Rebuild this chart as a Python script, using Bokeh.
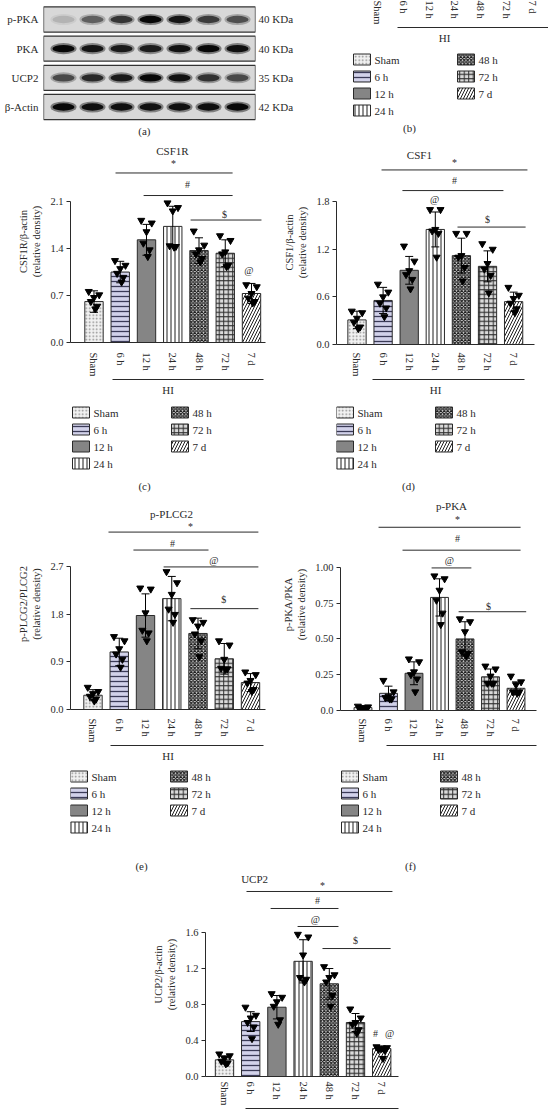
import numpy as np
from bokeh.plotting import figure
from bokeh.models import ColumnDataSource, Range1d, FixedTicker, LinearAxis
from bokeh.layouts import column, row
from bokeh.embed import file_html
from bokeh.resources import INLINE
from bokeh.core.properties import value

FONT = "Liberation Serif"
INK = "#2a2a2a"

GROUPS = ["Sham", "6 h", "12 h", "24 h", "48 h", "72 h", "7 d"]
HI_TEXT = "HI"

# ---------------- (a) western blot ----------------
BLOT_ROWS = ["p-PKA", "PKA", "UCP2", "β-Actin"]
BLOT_KDA = ["40 KDa", "40 KDa", "35 KDa", "42 KDa"]
BLOT_PPKA = [0.12, 0.45, 0.65, 0.95, 0.85, 0.62, 0.52]
BLOT_PKA = [0.95, 0.85, 0.82, 0.80, 0.88, 0.95, 0.90]
BLOT_UCP2 = [0.55, 0.72, 0.82, 0.95, 0.88, 0.68, 0.55]
BLOT_ACTIN = [0.95, 0.90, 0.90, 0.88, 0.90, 0.90, 0.95]

# ---------------- (c) CSF1R ----------------
CSF1R_MEAN = [0.61, 1.05, 1.53, 1.73, 1.37, 1.33, 0.73]
CSF1R_SD = [0.16, 0.16, 0.23, 0.30, 0.19, 0.20, 0.15]
CSF1R_PTS = [
    [0.76, 0.71, 0.67, 0.61, 0.54, 0.50],
    [1.22, 1.15, 1.10, 1.03, 0.97, 0.90],
    [1.82, 1.78, 1.65, 1.48, 1.38, 1.28],
    [2.08, 2.01, 1.96, 1.44, 1.43, 1.42],
    [1.66, 1.45, 1.38, 1.32, 1.25, 1.20],
    [1.59, 1.52, 1.35, 1.32, 1.15, 1.13],
    [0.86, 0.83, 0.73, 0.66, 0.61, 0.59],
]
CSF1R_TICKS = [0.0, 0.7, 1.4, 2.1]
CSF1R_TICK_LABELS = ["0.0", "0.7", "1.4", "2.1"]

# ---------------- (d) CSF1 ----------------
CSF1_MEAN = [0.31, 0.555, 0.935, 1.45, 1.12, 0.985, 0.54]
CSF1_SD = [0.11, 0.165, 0.175, 0.22, 0.22, 0.195, 0.12]
CSF1_PTS = [
    [0.42, 0.40, 0.33, 0.28, 0.22, 0.20],
    [0.76, 0.66, 0.60, 0.52, 0.46, 0.35],
    [1.24, 1.05, 0.93, 0.88, 0.82, 0.70],
    [1.70, 1.70, 1.45, 1.43, 1.40, 1.10],
    [1.40, 1.40, 1.12, 1.10, 0.97, 0.80],
    [1.27, 1.20, 1.02, 0.95, 0.87, 0.65],
    [0.72, 0.62, 0.58, 0.52, 0.45, 0.40],
]
CSF1_TICKS = [0.0, 0.6, 1.2, 1.8]
CSF1_TICK_LABELS = ["0.0", "0.6", "1.2", "1.8"]

# ---------------- (e) p-PLCG2 ----------------
PLCG2_MEAN = [0.27, 1.09, 1.78, 2.10, 1.44, 0.96, 0.51]
PLCG2_SD = [0.105, 0.26, 0.41, 0.42, 0.29, 0.29, 0.17]
PLCG2_PTS = [
    [0.42, 0.34, 0.30, 0.25, 0.20, 0.16],
    [1.38, 1.30, 1.15, 1.05, 0.95, 0.80],
    [2.30, 2.28, 1.83, 1.50, 1.45, 1.30],
    [2.61, 2.40, 2.18, 1.90, 1.80, 1.65],
    [1.70, 1.65, 1.58, 1.43, 1.30, 1.00],
    [1.30, 1.22, 0.95, 0.78, 0.77, 0.76],
    [0.71, 0.66, 0.55, 0.50, 0.38, 0.34],
]
PLCG2_TICKS = [0.0, 0.9, 1.8, 2.7]
PLCG2_TICK_LABELS = ["0.0", "0.9", "1.8", "2.7"]

# ---------------- (f) p-PKA ----------------
PKA_MEAN = [0.02, 0.12, 0.26, 0.79, 0.50, 0.235, 0.155]
PKA_SD = [0.01, 0.05, 0.08, 0.13, 0.12, 0.055, 0.045]
PKA_PTS = [
    [0.03, 0.025, 0.02, 0.015, 0.01, 0.01],
    [0.21, 0.13, 0.10, 0.09, 0.08, 0.08],
    [0.36, 0.34, 0.27, 0.25, 0.22, 0.13],
    [0.94, 0.92, 0.84, 0.77, 0.68, 0.60],
    [0.64, 0.62, 0.55, 0.41, 0.40, 0.38],
    [0.31, 0.29, 0.24, 0.19, 0.19, 0.19],
    [0.24, 0.20, 0.18, 0.13, 0.13, 0.12],
]
PKA_TICKS = [0.0, 0.25, 0.5, 0.75, 1.0]
PKA_TICK_LABELS = ["0.0", "0.25", "0.50", "0.75", "1.00"]

# ---------------- (g) UCP2 ----------------
UCP2_MEAN = [0.185, 0.61, 0.77, 1.28, 1.03, 0.60, 0.31]
UCP2_SD = [0.045, 0.11, 0.13, 0.24, 0.17, 0.10, 0.03]
UCP2_PTS = [
    [0.25, 0.23, 0.20, 0.17, 0.15, 0.14],
    [0.77, 0.68, 0.65, 0.60, 0.55, 0.42],
    [0.92, 0.88, 0.83, 0.78, 0.63, 0.58],
    [1.58, 1.55, 1.35, 1.10, 1.08, 1.05],
    [1.22, 1.13, 1.10, 1.05, 0.90, 0.78],
    [0.75, 0.65, 0.60, 0.58, 0.52, 0.48],
    [0.33, 0.32, 0.31, 0.30, 0.29, 0.20],
]
UCP2_TICKS = [0.0, 0.4, 0.8, 1.2, 1.6]
UCP2_TICK_LABELS = ["0.0", "0.4", "0.8", "1.2", "1.6"]

# ---------------- styles ----------------
FILLS = ["#f1f1f1", "#d2d2ea", "#858585", "#ffffff", "#dcdcdc", "#dadada", "#ffffff"]
HATCHES = [".", "-", " ", "|", "x", "+", "/"]
HATCH_COLORS = ["#8c8c8c", "#3b3b58", INK, "#1e1e1e", "#1e1e1e", "#2e2e2e", "#1e1e1e"]
HATCH_SCALES = [3.5, 5.0, 12.0, 4.0, 3.5, 4.5, 6.0]
HATCH_WEIGHTS = [1.0, 1.3, 1.0, 1.0, 1.2, 1.0, 1.0]
JITTER = [-0.2, 0.2, 0.0, -0.12, 0.12, 0.05]


def base_fig(width, height, xr, yr, borders, **kw):
    l, r, t, b = borders
    p = figure(width=width, height=height, x_range=Range1d(*xr), y_range=Range1d(*yr),
               output_backend="svg", toolbar_location=None, title=None,
               min_border_left=l, min_border_right=r, min_border_top=t,
               min_border_bottom=b, **kw)
    p.grid.visible = False
    p.outline_line_color = None
    return p


def style_text_axis(ax, size="10.5px"):
    ax.major_label_text_font = FONT
    ax.major_label_text_font_size = size
    ax.major_label_text_color = INK
    ax.axis_label_text_font = FONT
    ax.axis_label_text_font_size = size
    ax.axis_label_text_font_style = "normal"
    ax.axis_label_text_color = INK
    ax.minor_tick_line_color = None
    ax.minor_tick_in = 0
    ax.minor_tick_out = 0


def style_cols():
    return dict(fill=FILLS, hatch=HATCHES, hcolor=HATCH_COLORS,
                hscale=HATCH_SCALES, hweight=HATCH_WEIGHTS)


def add_group_axes(p, standoff, hi_bounds, hi_label=HI_TEXT):
    xa = p.xaxis[0]
    xa.ticker = FixedTicker(ticks=list(range(len(GROUPS))))
    xa.major_label_overrides = {i: g for i, g in enumerate(GROUPS)}
    xa.major_label_orientation = "vertical"
    xa.major_tick_line_color = None
    xa.major_tick_in = 0
    xa.major_tick_out = 0
    xa.major_label_standoff = standoff
    xa.axis_line_color = INK
    style_text_axis(xa)
    hi = LinearAxis(bounds=hi_bounds, ticker=FixedTicker(ticks=[]),
                    axis_label=hi_label, axis_label_standoff=4 if hi_label else 0,
                    major_tick_in=0, major_tick_out=0, major_label_standoff=0,
                    axis_line_color=INK, axis_line_width=1)
    style_text_axis(hi, "11px")
    p.add_layout(hi, "below")


def legend_fig(width, height, borders_lr, col_x, row_y, panel_label, lab_xy):
    """Key of the seven groups (two columns) plus the panel letter.
    Its frame lines up with the chart above it, so x is in the figure's pixels;
    y grows downward from the figure top."""
    l, r = borders_lr
    p = base_fig(width, height, (l, width - r), (height, 0), (l, r, 0, 0),
                 x_axis_location=None, y_axis_location=None)
    xs, ys, tx = [], [], []
    for i in range(len(GROUPS)):
        c, rr = divmod(i, 4)
        xs.append(col_x[c] + 8.5)
        tx.append(col_x[c] + 21)
        ys.append(row_y[rr])
    d = style_cols()
    d.update(x=xs, y=ys)
    p.rect(x="x", y="y", width=17, height=11, source=ColumnDataSource(d),
           fill_color="fill", line_color=INK, line_width=1,
           hatch_pattern="hatch", hatch_color="hcolor",
           hatch_scale="hscale", hatch_weight="hweight")
    p.text(x=tx, y=ys, text=GROUPS, text_font=value(FONT), text_font_size="11px",
           text_align="left", text_baseline="middle", text_color=INK)
    p.text(x=[lab_xy[0]], y=[lab_xy[1]], text=[panel_label], text_font=value(FONT),
           text_font_size="11px", text_align="center", text_baseline="middle",
           text_color=INK)
    return p


def bar_panel(width, height, borders, xr, y_end, mean, sd, pts, ticks, tick_labels,
              ylabel, title, title_xy, sig, extra, hi_bounds, x_standoff=10,
              hi_label=HI_TEXT):
    p = base_fig(width, height, xr, (0, y_end), borders)

    d = style_cols()
    d["x"] = list(range(len(GROUPS)))
    d["top"] = mean
    d["lo"] = [m - s for m, s in zip(mean, sd)]
    d["hi"] = [m + s for m, s in zip(mean, sd)]
    src = ColumnDataSource(d)
    p.vbar(x="x", top="top", bottom=0, width=0.7, source=src,
           fill_color="fill", line_color=INK, line_width=1,
           hatch_pattern="hatch", hatch_color="hcolor",
           hatch_scale="hscale", hatch_weight="hweight")
    p.segment(x0="x", y0="lo", x1="x", y1="hi", source=src, line_color="black", line_width=1)
    p.scatter(x="x", y="hi", marker="dash", size=8, source=src, line_color="black", line_width=1)
    p.scatter(x="x", y="lo", marker="dash", size=8, source=src, line_color="black", line_width=1)

    px, py = [], []
    for i, vals in enumerate(pts):
        for k, v in enumerate(vals):
            px.append(i + JITTER[k])
            py.append(v)
    p.scatter(px, py, marker="inverted_triangle", size=7, fill_color="black",
              line_color="black")

    lx0 = [s[1] for s in sig]
    lx1 = [s[2] for s in sig]
    ly = [s[3] for s in sig]
    p.segment(x0=lx0, y0=ly, x1=lx1, y1=ly, line_color=INK, line_width=1)
    syms = [s[0] for s in sig] + [e[0] for e in extra]
    sx = [s[4] for s in sig] + [e[1] for e in extra]
    sy = [s[5] for s in sig] + [e[2] for e in extra]
    p.text(x=sx, y=sy, text=syms, text_font=value(FONT), text_font_size="10px",
           text_align="center", text_baseline="middle", text_color=INK)
    p.text(x=[title_xy[0]], y=[title_xy[1]], text=[title], text_font=value(FONT),
           text_font_size="11px", text_align="center", text_baseline="middle",
           text_color=INK)

    ya = p.yaxis[0]
    ya.ticker = FixedTicker(ticks=ticks)
    ya.major_label_overrides = {tk: lb for tk, lb in zip(ticks, tick_labels)}
    ya.bounds = (0, ticks[-1])
    ya.axis_label = ylabel
    ya.axis_label_standoff = 5
    ya.major_label_standoff = 3
    ya.major_tick_in = 0
    ya.major_tick_out = 4
    ya.axis_line_color = INK
    ya.major_tick_line_color = INK
    style_text_axis(ya)

    add_group_axes(p, x_standoff, hi_bounds, hi_label)
    return p


def blot_panel():
    # rows 3..0 from top to bottom; frame reaches down to hold the "(a)" letter
    p = base_fig(308, 138, (-0.69, 6.62), (-1.08, 3.651), (43, 53, 0, 0),
                 x_axis_location=None)
    row_y = [3, 2, 1, 0]
    p.hbar(y=row_y, left=-0.69, right=6.62, height=0.86, fill_color="#d8d8d8",
           line_color="#333333", line_width=1.3)
    lanes = list(range(7))
    bx, by, ba = [], [], []
    for yv, inten in zip(row_y, [BLOT_PPKA, BLOT_PKA, BLOT_UCP2, BLOT_ACTIN]):
        for j, a in zip(lanes, inten):
            bx.append(j)
            by.append(yv)
            ba.append(a)
    src = ColumnDataSource(dict(x=bx, y=by, outer=[a * 0.5 for a in ba],
                                inner=[min(1.0, a * 1.05) for a in ba]))
    p.ellipse(x="x", y="y", width=0.9, height=0.38, source=src, fill_color="#151515",
              fill_alpha="outer", line_color=None)
    p.ellipse(x="x", y="y", width=0.76, height=0.25, source=src, fill_color="#080808",
              fill_alpha="inner", line_color=None)
    p.text(x=[2.79], y=[-0.81], text=["(a)"], text_font=value(FONT),
           text_font_size="11px", text_align="center", text_baseline="middle",
           text_color=INK)
    ya = p.yaxis[0]
    ya.ticker = FixedTicker(ticks=row_y)
    ya.major_label_overrides = {yv: nm for yv, nm in zip(row_y, BLOT_ROWS)}
    ya.axis_line_color = None
    ya.major_tick_line_color = None
    ya.major_tick_out = 0
    ya.major_tick_in = 0
    ya.major_label_standoff = 5
    style_text_axis(ya, "11px")
    ra = LinearAxis(ticker=FixedTicker(ticks=row_y),
                    major_label_overrides={yv: k for yv, k in zip(row_y, BLOT_KDA)},
                    axis_line_color=None, major_tick_line_color=None,
                    major_tick_out=0, major_tick_in=0, major_label_standoff=3)
    style_text_axis(ra, "11px")
    p.add_layout(ra, "right")
    return p


def stub_panel():
    # bottom of panel (b): its plotting area lies above the visible window
    p = base_fig(240, 44, (-1.43, 6.63), (-2, -1), (32, 0, 0, 43),
                 y_axis_location=None)
    add_group_axes(p, 0, (0.78, 6.63))
    p.xaxis[0].axis_line_color = None
    return p


blot = blot_panel()
stub = stub_panel()
leg_b = legend_fig(240, 94, (32, 0), (45, 149), (15, 32, 49, 66), "(b)", (101, 83))

pc = bar_panel(274, 260, (70, 9, 2, 53), (-0.895, 6.533), 3.01,
               CSF1R_MEAN, CSF1R_SD, CSF1R_PTS, CSF1R_TICKS, CSF1R_TICK_LABELS,
               "CSF1R/β-actin\n(relative density)", "CSF1R", (2.99, 2.86),
               [("*", 0.82, 5.28, 2.526, 3.03, 2.66),
                ("#", 1.89, 5.28, 2.19, 3.56, 2.35),
                ("$", 3.68, 6.38, 1.825, 4.97, 1.91)],
               [("@", 5.9, 1.07)], (0.70, 6.46))
leg_c = legend_fig(274, 100, (70, 9), (72, 171), (14, 31, 48, 65), "(c)", (144, 87))

pd_ = bar_panel(274, 260, (62, 14, 2, 53), (-0.785, 6.80), 2.571,
                CSF1_MEAN, CSF1_SD, CSF1_PTS, CSF1_TICKS, CSF1_TICK_LABELS,
                "CSF1/β-actin\n(relative density)", "CSF1", (2.39, 2.385),
                [("*", 0.94, 6.53, 2.20, 3.74, 2.30),
                 ("#", 1.74, 5.61, 1.94, 3.74, 2.07),
                 ("$", 3.85, 6.46, 1.48, 5.0, 1.58)],
                [("@", 2.97, 1.83)], (0.59, 6.42), x_standoff=8)
leg_d = legend_fig(274, 100, (62, 14), (62, 161), (14, 31, 48, 65), "(d)", (134, 87))

pe = bar_panel(274, 266, (70, 9, 0, 53), (-0.857, 6.571), 3.996,
               PLCG2_MEAN, PLCG2_SD, PLCG2_PTS, PLCG2_TICKS, PLCG2_TICK_LABELS,
               "p-PLCG2/PLCG2\n(relative density)", "p-PLCG2", (2.99, 3.71),
               [("*", 0.59, 6.30, 3.36, 3.71, 3.47),
                ("#", 1.54, 4.40, 3.02, 3.03, 3.15),
                ("@", 2.69, 6.30, 2.70, 4.60, 2.83),
                ("$", 3.71, 6.30, 1.91, 4.98, 2.08)],
               [], (0.67, 6.5), x_standoff=9)
leg_e = legend_fig(274, 108, (70, 9), (70, 170), (12, 29, 46, 63), "(e)", (141, 101))

pf = bar_panel(274, 266, (66, 12, 0, 53), (-0.882, 6.804), 1.481,
               PKA_MEAN, PKA_SD, PKA_PTS, PKA_TICKS, PKA_TICK_LABELS,
               "p-PKA/PKA\n(relative density)", "p-PKA", (3.47, 1.43),
               [("*", 0.61, 6.18, 1.28, 3.71, 1.335),
                ("#", 1.55, 6.18, 1.12, 3.71, 1.20),
                ("@", 2.69, 4.25, 0.996, 3.39, 1.05),
                ("$", 3.75, 6.40, 0.69, 4.92, 0.73)],
               [], (0.92, 6.8), x_standoff=8)
leg_f = legend_fig(274, 108, (66, 12), (67, 166), (12, 29, 46, 63), "(f)", (136, 101))

pg = bar_panel(548, 237, (205, 150, 0, 33), (-0.725, 6.641), 2.267,
               UCP2_MEAN, UCP2_SD, UCP2_PTS, UCP2_TICKS, UCP2_TICK_LABELS,
               "UCP2/β-actin\n(relative density)", "UCP2", (1.15, 2.19),
               [("*", 0.84, 6.41, 2.056, 3.74, 2.12),
                ("#", 1.76, 4.35, 1.867, 3.55, 1.956),
                ("@", 2.79, 4.35, 1.667, 3.47, 1.744),
                ("$", 3.74, 6.34, 1.422, 5.0, 1.511)],
               [("#", 5.76, 0.478), ("@", 6.30, 0.478)], (0.8, 6.641),
               x_standoff=5, hi_label=None)

layout = column(
    row(blot, column(stub, leg_b)),
    row(column(pc, leg_c), column(pd_, leg_d)),
    row(column(pe, leg_e), column(pf, leg_f)),
    pg,
)
open("out.html", "w").write(file_html(layout, INLINE))
